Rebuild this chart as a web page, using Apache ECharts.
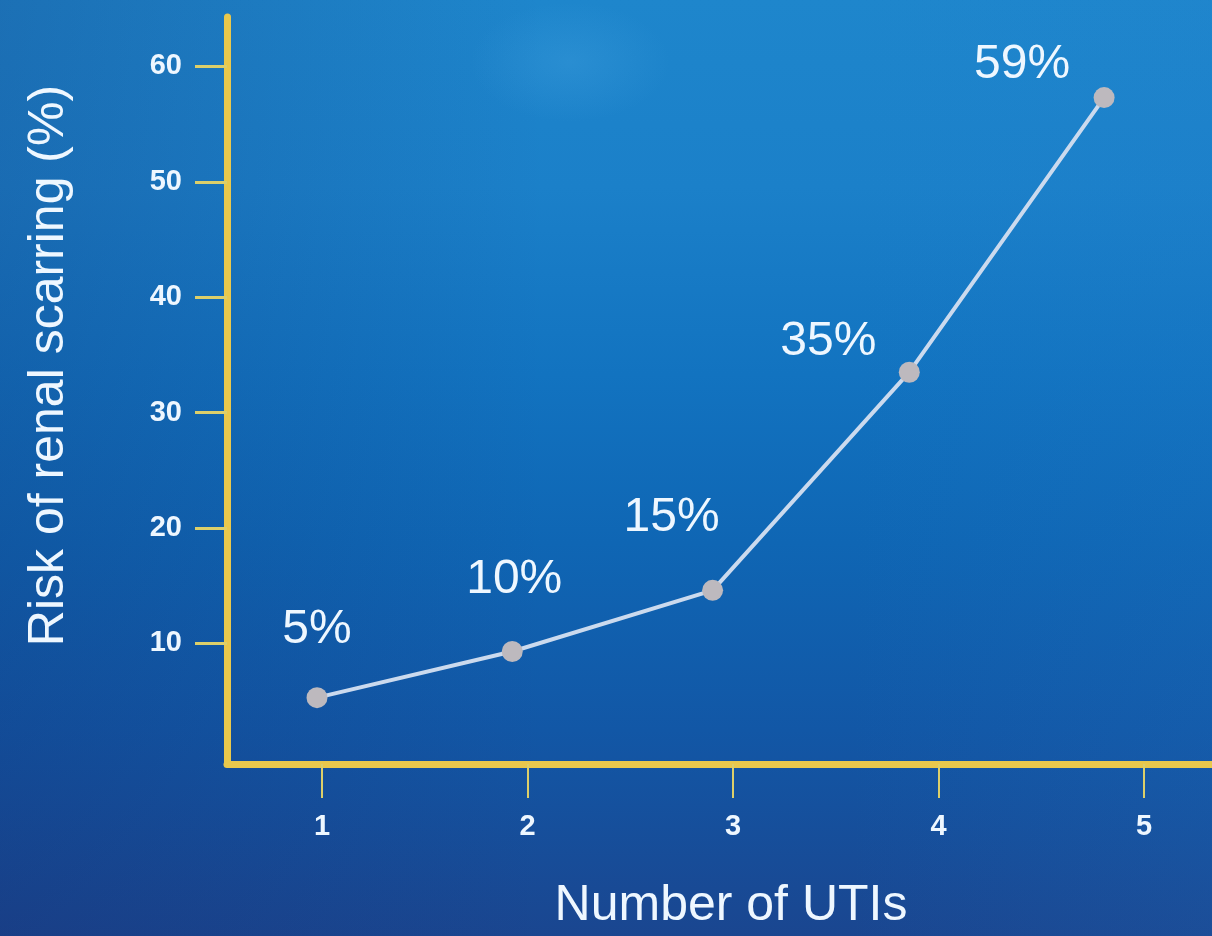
<!DOCTYPE html>
<html>
<head>
<meta charset="utf-8">
<script src="https://cdn.jsdelivr.net/npm/echarts@6/dist/echarts.min.js"></script>
<style>
html, body { margin: 0; padding: 0; width: 1212px; height: 936px; overflow: hidden; }
#chart {
  width: 1212px; height: 936px;
  background:
    radial-gradient(ellipse 100px 60px at 570px 62px, rgba(90,180,235,0.2), rgba(90,180,235,0) 100%),
    linear-gradient(90deg, rgba(20,35,100,0.22) 0%, rgba(20,35,100,0.0) 45%, rgba(40,130,210,0.0) 70%, rgba(40,130,210,0.12) 100%),
    linear-gradient(180deg, #1e86cc 0%, #1b80c9 20%, #1273c0 40%, #0f66b4 58%, #1257a6 78%, #1a4690 100%);
}
</style>
</head>
<body>
<div id="chart"></div>
<script>
// ---- data ----
const utiCounts = [0.975, 1.925, 2.90, 3.857, 4.805];   // x position of each point (Number of UTIs)
const scarringRisk = [5.3, 9.3, 14.6, 33.5, 57.3];       // y value of each point (%)
const pointLabels = ['5%', '10%', '15%', '35%', '59%'];
const xTickValues = [1, 2, 3, 4, 5];
const yTickValues = [10, 20, 30, 40, 50, 60];
const xAxisTitle = 'Number of UTIs';
const yAxisTitle = 'Risk of renal scarring (%)';

// ---- styling ----
const FONT = '"Liberation Sans", Arial, Helvetica, sans-serif';
const AXIS_YELLOW = '#e9c84c';
const TICK_YELLOW = '#dccf6a';
const TEXT_WHITE = '#eef7ff';
const labelOffsets = [[0, -33], [2, -37], [-41, -38], [-81, 4], [-82, 2]];

const seriesData = utiCounts.map((x, i) => ({
  value: [x, scarringRisk[i]],
  label: { offset: labelOffsets[i] }
}));

const chart = echarts.init(document.getElementById('chart'), null, { renderer: 'canvas' });
chart.setOption({
  animation: false,
  backgroundColor: 'transparent',
  grid: { left: 227, right: 0, top: 17, bottom: 163, containLabel: false },
  xAxis: {
    type: 'value',
    min: 0.537,
    max: 5.33,
    name: xAxisTitle,
    nameLocation: 'middle',
    nameGap: 117,
    nameTextStyle: { color: TEXT_WHITE, fontSize: 50, fontFamily: FONT, padding: [0, 0, 0, 23] },
    axisLine: { show: true, onZero: false, lineStyle: { color: AXIS_YELLOW, width: 7, cap: 'round' } },
    axisTick: { show: true, customValues: xTickValues, length: 34, lineStyle: { color: TICK_YELLOW, width: 2 } },
    axisLabel: { show: true, customValues: xTickValues, margin: 48, color: TEXT_WHITE, fontSize: 29, fontWeight: 'bold', fontFamily: FONT },
    splitLine: { show: false }
  },
  yAxis: {
    type: 'value',
    min: -0.45,
    max: 64.28,
    name: yAxisTitle,
    nameLocation: 'middle',
    nameRotate: 90,
    nameGap: 153,
    nameTextStyle: { color: TEXT_WHITE, fontSize: 50, fontFamily: FONT, padding: [0, 0, 0, 50] },
    axisLine: { show: true, onZero: false, lineStyle: { color: AXIS_YELLOW, width: 7, cap: 'round' } },
    axisTick: { show: true, customValues: yTickValues, length: 32, lineStyle: { color: TICK_YELLOW, width: 3 } },
    axisLabel: { show: true, customValues: yTickValues, margin: 45, color: TEXT_WHITE, fontSize: 29, fontWeight: 'bold', fontFamily: FONT },
    splitLine: { show: false }
  },
  series: [{
    type: 'line',
    data: seriesData,
    symbol: 'circle',
    symbolSize: 21,
    itemStyle: { color: '#bdb9be', borderWidth: 0 },
    lineStyle: { color: '#cbdaee', width: 4 },
    label: {
      show: true,
      position: 'top',
      distance: 0,
      formatter: p => pointLabels[p.dataIndex],
      color: TEXT_WHITE,
      fontSize: 48,
      fontFamily: FONT
    },
    emphasis: { disabled: true }
  }]
});
</script>
</body>
</html>
